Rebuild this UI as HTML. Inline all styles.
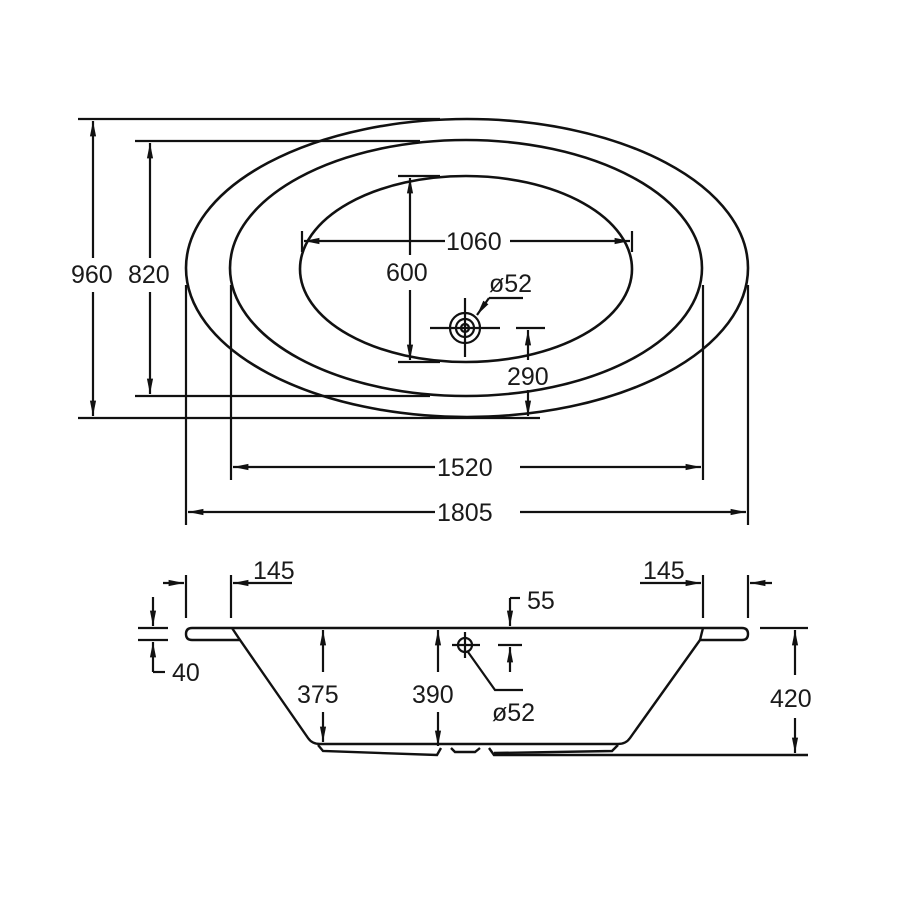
<!DOCTYPE html>
<html><head><meta charset="utf-8"><style>body{margin:0;background:#fff}svg{display:block}text{font-family:"Liberation Sans",sans-serif;font-size:25px;fill:#1a1a1a}</style></head>
<body>
<svg width="900" height="900" viewBox="0 0 900 900" xmlns="http://www.w3.org/2000/svg">
<defs><marker id="a" viewBox="0 0 10 10" refX="10" refY="5" markerWidth="7" markerHeight="7" orient="auto-start-reverse"><path d="M0,3 L10,5 L0,7 z" fill="#111"/></marker></defs>
<g stroke="#111" stroke-width="2.6" fill="none">
<ellipse cx="467" cy="268" rx="281" ry="149"/>
<ellipse cx="466" cy="268" rx="236" ry="128"/>
<ellipse cx="466" cy="269" rx="166" ry="93"/>
</g>
<g stroke="#111" stroke-width="2.2" fill="none">
<line x1="78" y1="119" x2="440" y2="119"/><line x1="78" y1="418" x2="540" y2="418"/>
<line x1="135" y1="141" x2="420" y2="141"/><line x1="135" y1="396" x2="430" y2="396"/>
<line x1="93" y1="121" x2="93" y2="258" marker-start="url(#a)"/><line x1="93" y1="292" x2="93" y2="416" marker-end="url(#a)"/>
<line x1="150" y1="143" x2="150" y2="258" marker-start="url(#a)"/><line x1="150" y1="292" x2="150" y2="394" marker-end="url(#a)"/>
<line x1="398" y1="176" x2="440" y2="176"/><line x1="398" y1="362" x2="440" y2="362"/>
<line x1="410" y1="178" x2="410" y2="255" marker-start="url(#a)"/><line x1="410" y1="290" x2="410" y2="360" marker-end="url(#a)"/>
<line x1="302" y1="231" x2="302" y2="252"/><line x1="632" y1="231" x2="632" y2="252"/>
<line x1="304" y1="241" x2="445" y2="241" marker-start="url(#a)"/><line x1="510" y1="241" x2="630" y2="241" marker-end="url(#a)"/>
<circle cx="465" cy="328" r="15"/><circle cx="465" cy="328" r="9"/><circle cx="465" cy="328" r="4"/>
<line x1="430" y1="328" x2="500" y2="328"/><line x1="465" y1="298" x2="465" y2="357"/>
<line x1="489" y1="298" x2="523" y2="298"/><line x1="489" y1="298" x2="477" y2="315" marker-end="url(#a)"/>
<line x1="516" y1="328" x2="545" y2="328"/>
<line x1="528" y1="330" x2="528" y2="360" marker-start="url(#a)"/><line x1="528" y1="390" x2="528" y2="416" marker-end="url(#a)"/>
<line x1="231" y1="285" x2="231" y2="480"/><line x1="703" y1="285" x2="703" y2="480"/>
<line x1="186" y1="285" x2="186" y2="525"/><line x1="748" y1="285" x2="748" y2="525"/>
<line x1="233" y1="467" x2="435" y2="467" marker-start="url(#a)"/><line x1="520" y1="467" x2="701" y2="467" marker-end="url(#a)"/>
<line x1="188" y1="512" x2="435" y2="512" marker-start="url(#a)"/><line x1="520" y1="512" x2="746" y2="512" marker-end="url(#a)"/>
</g>
<text x="71" y="283">960</text><text x="128" y="283">820</text><text x="386" y="281">600</text>
<text x="446" y="250">1060</text><text x="489" y="292">ø52</text><text x="507" y="385">290</text>
<text x="437" y="476">1520</text><text x="437" y="521">1805</text>
<g stroke="#111" stroke-width="2.4" fill="none">
<path d="M192,628 L232,628 L703,628 L742,628 Q748,628 748,634 Q748,640 742,640 L714,640 L700,640 L630,738 Q626,744 618,744 L320,744 Q312,744 308,738 L240,640 L192,640 Q186,640 186,634 Q186,628 192,628 Z"/>
<line x1="232" y1="628" x2="240" y2="640"/><line x1="703" y1="628" x2="700" y2="640"/>
<path d="M318,745 L323,751 L437,755 L441,748"/>
<path d="M451,748 L455,752 L475,752 L480,748"/>
<path d="M489,748 L494,755 L808,755"/><path d="M494,753 L612,751 L618,745"/>
</g>
<g stroke="#111" stroke-width="2.2" fill="none">
<line x1="186" y1="575" x2="186" y2="618"/><line x1="231" y1="575" x2="231" y2="618"/>
<line x1="163" y1="583" x2="184" y2="583" marker-end="url(#a)"/><line x1="233" y1="583" x2="292" y2="583" marker-start="url(#a)"/>
<line x1="703" y1="575" x2="703" y2="618"/><line x1="748" y1="575" x2="748" y2="618"/>
<line x1="640" y1="583" x2="701" y2="583" marker-end="url(#a)"/><line x1="750" y1="583" x2="772" y2="583" marker-start="url(#a)"/>
<line x1="138" y1="628" x2="168" y2="628"/><line x1="138" y1="640" x2="168" y2="640"/>
<line x1="153" y1="597" x2="153" y2="626" marker-end="url(#a)"/><line x1="153" y1="642" x2="153" y2="672" marker-start="url(#a)"/><line x1="153" y1="672" x2="165" y2="672"/>
<line x1="510" y1="598" x2="520" y2="598"/><line x1="510" y1="598" x2="510" y2="626" marker-end="url(#a)"/>
<line x1="498" y1="645" x2="522" y2="645"/><line x1="510" y1="647" x2="510" y2="672" marker-start="url(#a)"/>
<circle cx="465" cy="645" r="7"/><line x1="452" y1="645" x2="480" y2="645"/><line x1="465" y1="632" x2="465" y2="658"/>
<path d="M468,652 L495,690 L523,690"/>
<line x1="323" y1="630" x2="323" y2="672" marker-start="url(#a)"/><line x1="323" y1="712" x2="323" y2="742" marker-end="url(#a)"/>
<line x1="438" y1="630" x2="438" y2="672" marker-start="url(#a)"/><line x1="438" y1="712" x2="438" y2="746" marker-end="url(#a)"/>
<line x1="760" y1="628" x2="808" y2="628"/>
<line x1="795" y1="630" x2="795" y2="675" marker-start="url(#a)"/><line x1="795" y1="718" x2="795" y2="753" marker-end="url(#a)"/>
</g>
<text x="253" y="579">145</text><text x="643" y="579">145</text><text x="527" y="609">55</text>
<text x="172" y="681">40</text><text x="297" y="703">375</text><text x="412" y="703">390</text>
<text x="492" y="721">ø52</text><text x="770" y="707">420</text>
</svg>
</body></html>
